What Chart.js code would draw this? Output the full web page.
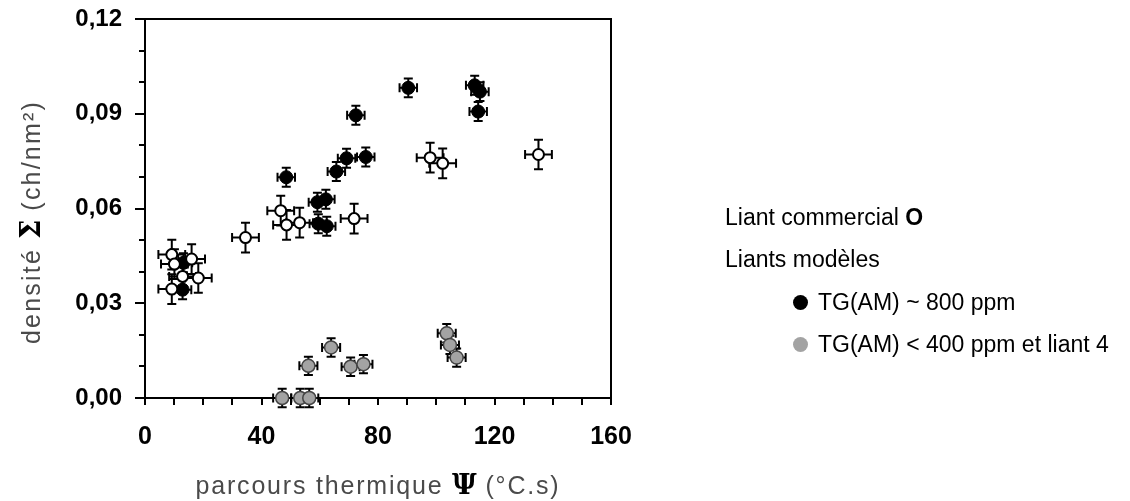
<!DOCTYPE html>
<html>
<head>
<meta charset="utf-8">
<script src="https://cdn.jsdelivr.net/npm/chart.js@4/dist/chart.umd.min.js"></script>
<style>
  html, body { margin: 0; padding: 0; background: #fff; }
  #wrap { position: relative; width: 1130px; height: 501px; }
  #c { position: absolute; left: 0; top: 0; }
  .row {
    position: absolute; white-space: nowrap;
    font-family: "Liberation Sans", Arial, sans-serif;
    font-size: 23px; line-height: 23px; color: #000;
  }
  .dot {
    display: inline-block; width: 15px; height: 15px; border-radius: 50%;
    margin-right: 10px; vertical-align: 0px;
  }
</style>
</head>
<body>
<div id="wrap">
  <canvas id="c" width="1130" height="501"></canvas>
  <div class="row" style="left:725px; top:206px;">Liant commercial <b>O</b></div>
  <div class="row" style="left:725px; top:248px;">Liants modèles</div>
  <div class="row" style="left:793px; top:291px;"><span class="dot" style="background:#000"></span>TG(AM) ~ 800 ppm</div>
  <div class="row" style="left:793px; top:333px;"><span class="dot" style="background:#a3a3a3"></span>TG(AM) &lt; 400 ppm et liant 4</div>
</div>
<script>
// Liant commercial (open symbols)
const commercialX = [9.2, 16.0, 10.1, 12.9, 18.3, 9.2, 34.5, 46.6, 48.6, 53.1, 71.8, 97.9, 102.2, 135.1];
const commercialY = [0.0454, 0.0440, 0.0424, 0.0385, 0.0380, 0.0345, 0.0508, 0.0593, 0.0548, 0.0555, 0.0568, 0.0761, 0.0743, 0.0771];

// Liants modèles, TG(AM) ~ 800 ppm (filled black)
const tg800X = [13.2, 12.9, 48.5, 59.2, 62.1, 59.5, 62.4, 65.7, 69.2, 75.8, 72.4, 90.4, 113.2, 115.0, 114.4];
const tg800Y = [0.0428, 0.0343, 0.0699, 0.0620, 0.0629, 0.0552, 0.0544, 0.0717, 0.0759, 0.0763, 0.0895, 0.0982, 0.0990, 0.0970, 0.0907];

// Liants modèles, TG(AM) < 400 ppm et liant 4 (filled grey)
const tg400X = [47.1, 53.3, 56.4, 56.1, 63.9, 70.6, 75.0, 103.6, 104.7, 107.0];
const tg400Y = [0.0, 0.0, 0.0, 0.0102, 0.0160, 0.0099, 0.0107, 0.0205, 0.0168, 0.0128];

// uncertainty half-widths (x in °C.s, y in ch/nm²)
const commercialErr = [4.6, 0.0047];
const tg800Err = [3.0, 0.0030];
const tg400Err = [3.1, 0.0029];

// axis ticks
const xTickLabels = [0, 40, 80, 120, 160];
const yTickLabels = [0.00, 0.03, 0.06, 0.09, 0.12];

const pts = (xs, ys) => xs.map((x, i) => ({ x: x, y: ys[i] }));

// error bars with caps, drawn just under each dataset's markers
const errorBars = {
  id: 'errorBars',
  beforeDatasetDraw(chart, args) {
    const ds = chart.data.datasets[args.index];
    if (!ds.err) return;
    const sx = chart.scales.x, sy = chart.scales.y, ctx = chart.ctx;
    const cap = 4.5;
    ctx.save();
    ctx.strokeStyle = '#000';
    ctx.lineWidth = 2;
    ds.data.forEach(p => {
      const cx = sx.getPixelForValue(p.x), cy = sy.getPixelForValue(p.y);
      const xl = sx.getPixelForValue(p.x - ds.err[0]), xr = sx.getPixelForValue(p.x + ds.err[0]);
      const yt = sy.getPixelForValue(p.y + ds.err[1]), yb = sy.getPixelForValue(p.y - ds.err[1]);
      ctx.beginPath();
      ctx.moveTo(xl, cy); ctx.lineTo(xr, cy);
      ctx.moveTo(cx, yt); ctx.lineTo(cx, yb);
      ctx.moveTo(xl, cy - cap); ctx.lineTo(xl, cy + cap);
      ctx.moveTo(xr, cy - cap); ctx.lineTo(xr, cy + cap);
      ctx.moveTo(cx - cap, yt); ctx.lineTo(cx + cap, yt);
      ctx.moveTo(cx - cap, yb); ctx.lineTo(cx + cap, yb);
      ctx.stroke();
    });
    ctx.restore();
  }
};

// box frame and outward tick marks
const frame = {
  id: 'frame',
  beforeDatasetsDraw(chart) {
    const { ctx, chartArea: a } = chart;
    const sx = chart.scales.x, sy = chart.scales.y;
    ctx.save();
    ctx.strokeStyle = '#000';
    ctx.lineWidth = 2;
    ctx.strokeRect(a.left, a.top, a.right - a.left, a.bottom - a.top);
    ctx.beginPath();
    sx.ticks.forEach(t => {
      const px = Math.round(sx.getPixelForValue(t.value));
      ctx.moveTo(px, a.bottom); ctx.lineTo(px, a.bottom + 7);
    });
    sy.ticks.forEach(t => {
      const py = Math.round(sy.getPixelForValue(t.value));
      const major = Math.round(t.value * 100) % 3 === 0;
      ctx.moveTo(a.left, py); ctx.lineTo(a.left - (major ? 10 : 6), py);
    });
    ctx.stroke();
    ctx.restore();
  }
};

// axis titles: grey text with a bold black Greek symbol
function drawParts(ctx, parts, x, y) {
  let total = 0;
  parts.forEach(p => { ctx.font = p.font; ctx.letterSpacing = p.ls; p.w = ctx.measureText(p.t).width; total += p.w; });
  let cx = x - total / 2;
  parts.forEach(p => {
    ctx.font = p.font; ctx.letterSpacing = p.ls; ctx.fillStyle = p.color;
    ctx.fillText(p.t, cx, y);
    cx += p.w;
  });
}
const axisTitles = {
  id: 'axisTitles',
  afterDraw(chart) {
    const ctx = chart.ctx, a = chart.chartArea;
    const thin = '25px "Liberation Sans", Arial, sans-serif';
    const sym = 'bold 27px "DejaVu Serif", "Liberation Serif", serif';
    ctx.save();
    ctx.textAlign = 'left';
    ctx.textBaseline = 'alphabetic';
    drawParts(ctx, [
      { t: 'parcours thermique ', font: thin, color: '#4a4a4a', ls: '1.8px' },
      { t: 'Ψ', font: sym, color: '#000', ls: '0px' },
      { t: ' (°C.s)', font: thin, color: '#4a4a4a', ls: '1.8px' }
    ], (a.left + a.right) / 2, 494);
    ctx.translate(40, 222);
    ctx.rotate(-Math.PI / 2);
    drawParts(ctx, [
      { t: 'densité ', font: thin, color: '#4a4a4a', ls: '2.2px' },
      { t: 'Σ', font: sym, color: '#000', ls: '0px' },
      { t: ' (ch/nm²)', font: thin, color: '#4a4a4a', ls: '2.2px' }
    ], 0, 0);
    ctx.restore();
  }
};

new Chart(document.getElementById('c'), {
  type: 'scatter',
  data: {
    datasets: [
      {
        label: 'Liant commercial', data: pts(commercialX, commercialY), err: commercialErr,
        pointStyle: 'circle', pointRadius: 5.5, pointBackgroundColor: '#fff',
        pointBorderColor: '#000', pointBorderWidth: 2, clip: false
      },
      {
        label: 'TG(AM) ~ 800 ppm', data: pts(tg800X, tg800Y), err: tg800Err,
        pointStyle: 'circle', pointRadius: 6.5, pointBackgroundColor: '#000',
        pointBorderColor: '#000', pointBorderWidth: 1, clip: false
      },
      {
        label: 'TG(AM) < 400 ppm et liant 4', data: pts(tg400X, tg400Y), err: tg400Err,
        pointStyle: 'circle', pointRadius: 6.5, pointBackgroundColor: '#a3a3a3',
        pointBorderColor: '#444', pointBorderWidth: 1.5, clip: false
      }
    ]
  },
  options: {
    responsive: false,
    devicePixelRatio: 1,
    animation: false,
    events: [],
    layout: { padding: { top: 19, right: 519, bottom: 0, left: 0 } },
    plugins: { legend: { display: false }, tooltip: { enabled: false } },
    scales: {
      x: {
        type: 'linear', min: 0, max: 160,
        afterFit(s) { s.height = 103; },
        grid: { display: false, drawTicks: false },
        border: { display: false },
        ticks: {
          stepSize: 10, autoSkip: false, maxRotation: 0, padding: 24, color: '#000',
          font: { family: '"Liberation Sans", Arial, sans-serif', weight: 'bold', size: 25 },
          callback: v => xTickLabels.includes(v) ? String(v) : ''
        }
      },
      y: {
        type: 'linear', min: 0, max: 0.12,
        afterFit(s) { s.width = 145; s.paddingTop = 0; s.paddingBottom = 0; },
        grid: { display: false, drawTicks: false },
        border: { display: false },
        ticks: {
          stepSize: 0.01, autoSkip: false, padding: 23, color: '#000',
          font: { family: '"Liberation Sans", Arial, sans-serif', weight: 'bold', size: 24 },
          callback: v => yTickLabels.some(t => Math.abs(t - v) < 1e-9) ? v.toFixed(2).replace('.', ',') : ''
        }
      }
    }
  },
  plugins: [errorBars, frame, axisTitles]
});
</script>
</body>
</html>
